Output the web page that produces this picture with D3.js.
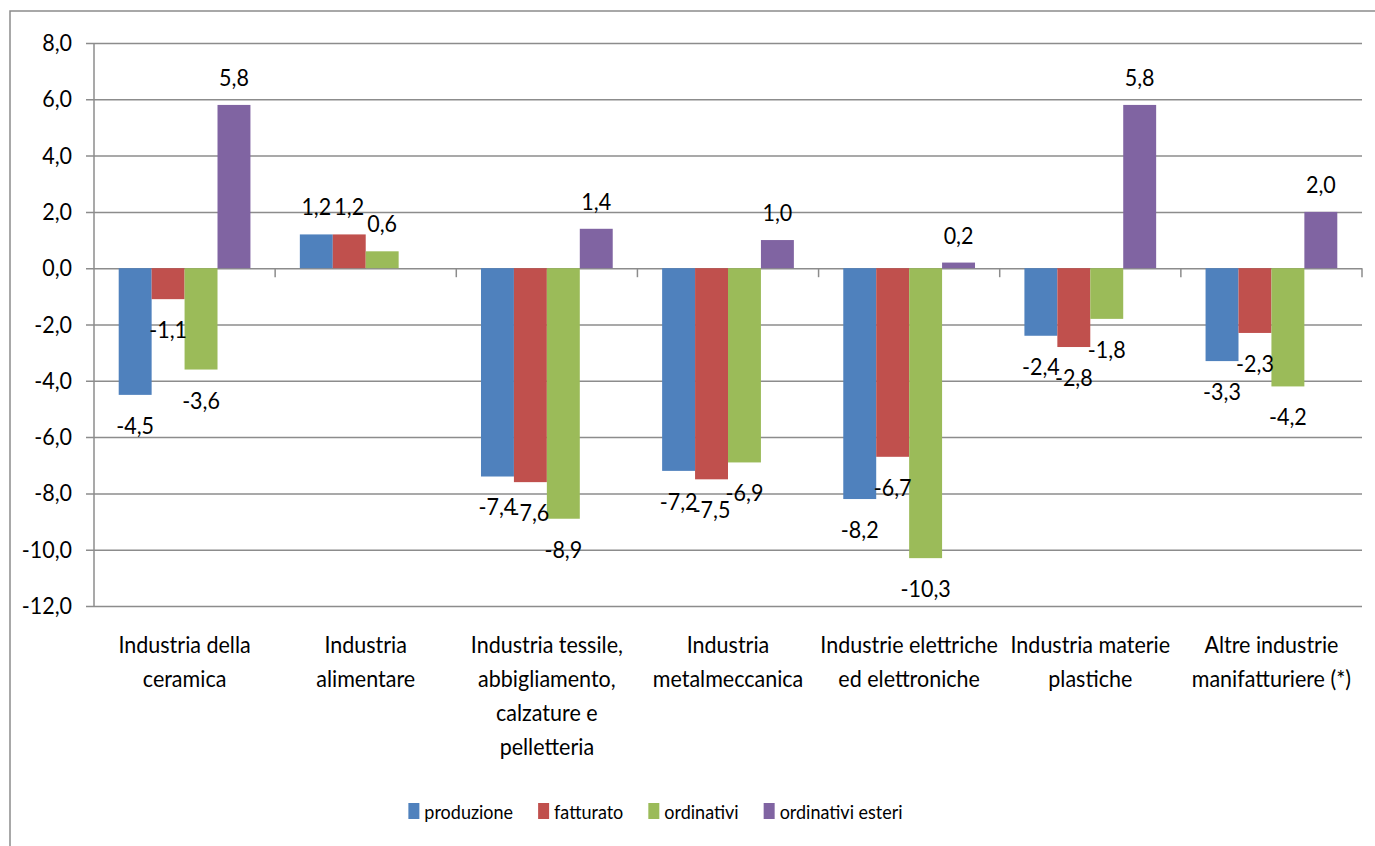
<!DOCTYPE html>
<html><head><meta charset="utf-8">
<script src="https://cdn.jsdelivr.net/npm/d3@7/dist/d3.min.js"></script>
<style>
body{margin:0;background:#fff}
svg{display:block}
text{font-family:Lato,"Open Sans",sans-serif;fill:#000}
</style>
</head><body>
<svg id="chart" width="1375" height="846"></svg>
<script>
// ---- data ----
const categories = [
  "Industria della\nceramica",
  "Industria\nalimentare",
  "Industria tessile,\nabbigliamento,\ncalzature e\npelletteria",
  "Industria\nmetalmeccanica",
  "Industrie elettriche\ned elettroniche",
  "Industria materie\nplastiche",
  "Altre industrie\nmanifatturiere (*)"
];
const seriesNames = ["produzione", "fatturato", "ordinativi", "ordinativi esteri"];
const produzione       = [-4.5, 1.2, -7.4, -7.2, -8.2, -2.4, -3.3];
const fatturato        = [-1.1, 1.2, -7.6, -7.5, -6.7, -2.8, -2.3];
const ordinativi       = [-3.6, 0.6, -8.9, -6.9, -10.3, -1.8, -4.2];
const ordinativiEsteri = [5.8, null, 1.4, 1.0, 0.2, 5.8, 2.0];
const yTicks = [-12, -10, -8, -6, -4, -2, 0, 2, 4, 6, 8];

(function () {
// ---- styles ----
const colors = ["#4F81BD", "#C0504D", "#9BBB59", "#8064A2"];
const gridColor = "#8c8c8c";
const FS = 21.5, LFS = 18, K = 1.08; // K: vertical stretch of glyphs
const seriesValues = [produzione, fatturato, ordinativi, ordinativiEsteri];

// stretch a text vertically about its baseline
function stretch(sel) {
  sel.each(function () {
    const yy = +this.getAttribute("y") || 0;
    this.setAttribute("transform", `translate(0,${yy * (1 - K)}) scale(1,${K})`);
  });
}

const svg = d3.select("#chart");
const pLeft = 94, pRight = 1362, pTop = 43, pBottom = 606;

const fmt = d3.formatLocale({decimal: ",", thousands: ".", grouping: [3], currency: ["", "€"], minus: "-"}).format(".1f");

const x0 = d3.scaleBand().domain(categories).range([pLeft, pRight]).padding(0);
const step = x0.step();
const gap = step * 1.5 / 5.5 / 2; // Excel gap width 150%
const x1 = d3.scaleBand().domain(seriesNames).range([gap, step - gap]).padding(0);
const y = d3.scaleLinear().domain([-12, 8]).range([pBottom, pTop]);

// outer chart-area border
svg.append("path").attr("d", "M10,846V11H1375").attr("fill", "none")
  .attr("stroke", gridColor).attr("stroke-width", 1.5);

// gridlines + y-axis ticks
const gy = svg.append("g").attr("transform", `translate(${pLeft},0)`)
  .call(d3.axisLeft(y).tickValues(yTicks).tickSize(8).tickPadding(14).tickFormat(fmt));
gy.select(".domain").remove();
gy.selectAll(".tick line").attr("stroke", gridColor).attr("stroke-width", 1.5)
  .attr("x1", pRight - pLeft);
gy.selectAll(".tick text").attr("font-size", FS).attr("font-family", null)
  .attr("dy", null).attr("y", 7.5).attr("fill", "#000").call(stretch);
svg.append("line").attr("x1", pLeft).attr("x2", pLeft).attr("y1", pTop).attr("y2", pBottom)
  .attr("stroke", gridColor).attr("stroke-width", 1.5);

// x-axis boundary ticks
const y0 = y(0);
svg.append("g").selectAll("line").data(categories).join("line")
  .attr("x1", d => x0(d) + step).attr("x2", d => x0(d) + step)
  .attr("y1", y0).attr("y2", y0 + 9)
  .attr("stroke", gridColor).attr("stroke-width", 1.5);

// bars
const rows = [];
categories.forEach((c, i) => seriesNames.forEach((s, j) => {
  const v = seriesValues[j][i];
  if (v !== null && v !== undefined) rows.push({c, s, v, j});
}));
svg.append("g").selectAll("rect").data(rows).join("rect")
  .attr("x", d => x0(d.c) + x1(d.s))
  .attr("width", x1.bandwidth())
  .attr("y", d => Math.min(y(d.v), y0))
  .attr("height", d => Math.abs(y(d.v) - y0))
  .attr("fill", d => colors[d.j]);

// data labels
svg.append("g").selectAll("text").data(rows).join("text")
  .attr("x", d => x0(d.c) + x1(d.s) + x1.bandwidth() / 2)
  .attr("y", d => d.v >= 0 ? y(d.v) - 19 : y(d.v) + 39)
  .attr("text-anchor", "middle").attr("font-size", FS)
  .text(d => fmt(d.v))
  .call(stretch);

// category labels
const cl = svg.append("g").selectAll("text").data(categories).join("text")
  .attr("text-anchor", "middle").attr("font-size", FS)
  .attr("x", d => x0(d) + step / 2).attr("y", 653);
cl.selectAll("tspan").data(d => d.split("\n")).join("tspan")
  .attr("x", function() { return d3.select(this.parentNode).attr("x"); })
  .attr("dy", (d, i) => i === 0 ? 0 : 34 / K)
  .text(d => d);
cl.call(stretch);

// legend
const lg = svg.append("g");
const items = lg.selectAll("g").data(seriesNames).join("g");
items.append("rect").attr("width", 11).attr("height", 16).attr("y", -16)
  .attr("fill", (d, i) => colors[i]);
items.append("text").attr("x", 16).attr("font-size", LFS).text(d => d).call(stretch);
let cx = 0;
items.each(function() {
  d3.select(this).attr("transform", `translate(${cx},0)`);
  cx += 16 + this.querySelector("text").getComputedTextLength() + 25;
});
const totalW = cx - 25;
lg.attr("transform", `translate(${655.5 - totalW / 2},819)`);
})();
</script>
</body></html>
